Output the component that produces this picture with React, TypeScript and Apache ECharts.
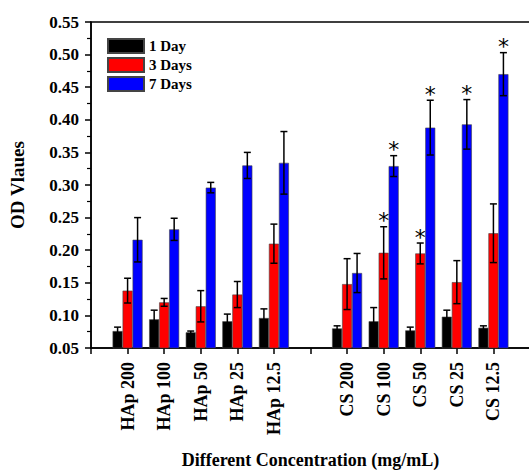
import React, { useEffect, useRef } from "react";
import * as echarts from "echarts";

const categories = ["", "HAp 200", "HAp 100", "HAp 50", "HAp 25", "HAp 12.5", "", "CS 200", "CS 100", "CS 50", "CS 25", "CS 12.5", ""];
const seriesNames = ["1 Day", "3 Days", "7 Days"];
const day1 = [null, 0.076, 0.094, 0.074, 0.091, 0.096, null, 0.080, 0.091, 0.077, 0.098, 0.081, null];
const day1Err = [null, 0.006, 0.014, 0.002, 0.011, 0.014, null, 0.004, 0.021, 0.005, 0.010, 0.003, null];
const day3 = [null, 0.138, 0.120, 0.114, 0.132, 0.210, null, 0.148, 0.196, 0.195, 0.151, 0.226, null];
const day3Err = [null, 0.019, 0.006, 0.024, 0.020, 0.030, null, 0.039, 0.040, 0.016, 0.033, 0.045, null];
const day7 = [null, 0.216, 0.232, 0.296, 0.330, 0.334, null, 0.165, 0.329, 0.388, 0.393, 0.470, null];
const day7Err = [null, 0.034, 0.017, 0.008, 0.020, 0.048, null, 0.030, 0.016, 0.042, 0.038, 0.033, null];
const sig1 = [0, 0, 0, 0, 0, 0, 0, 0, 0, 0, 0, 0, 0];
const sig3 = [0, 0, 0, 0, 0, 0, 0, 0, 1, 1, 0, 0, 0];
const sig7 = [0, 0, 0, 0, 0, 0, 0, 0, 1, 1, 1, 1, 0];
const colors = ["#000000", "#ff0000", "#0000ff"];

const FONT = "'Liberation Serif', 'Times New Roman', serif";
const BAR_W = 10;

export default function App() {
  const ref = useRef<HTMLDivElement>(null);
  useEffect(() => {
    document.body.style.margin = "0";
    const chart = echarts.init(ref.current!, null, { renderer: "svg" });
    const values = [day1, day3, day7];
    const errs = [day1Err, day3Err, day7Err];
    const sigs = [sig1, sig3, sig7];

    const bars = values.map((vals, i) => ({
      name: seriesNames[i],
      type: "bar",
      data: vals,
      barWidth: BAR_W,
      barGap: "0%",
      itemStyle: { color: colors[i], borderColor: "#444", borderWidth: 0.6 },
      z: 2,
    }));

    const errSeries = values.map((vals, i) => {
      const offset = (i - 1) * BAR_W;
      const data = vals
        .map((v, k) => (v == null ? null : [k, v, errs[i][k] as number, sigs[i][k]]))
        .filter((d) => d !== null);
      return {
        type: "custom",
        name: "err" + i,
        data,
        encode: { x: 0, y: 1 },
        z: 5,
        clip: false,
        silent: true,
        renderItem: (params: any, api: any) => {
          const idx = api.value(0);
          const v = api.value(1);
          const e = api.value(2);
          const s = api.value(3);
          const c = api.coord([idx, v]);
          const x = c[0] + offset;
          const hi = api.coord([idx, v + e])[1];
          const lo = api.coord([idx, v - e])[1];
          const cap = 3.5;
          const st = { stroke: "#000", lineWidth: 1.5 };
          const children: any[] = [
            { type: "line", shape: { x1: x, y1: hi, x2: x, y2: lo }, style: st },
            { type: "line", shape: { x1: x - cap, y1: hi, x2: x + cap, y2: hi }, style: st },
            { type: "line", shape: { x1: x - cap, y1: lo, x2: x + cap, y2: lo }, style: st },
          ];
          if (s) {
            children.push({
              type: "text",
              style: {
                text: "*",
                x: x,
                y: hi + 5,
                align: "center",
                verticalAlign: "bottom",
                fontSize: 22,
                fontFamily: "DejaVu Sans",
                fill: "#000",
              },
            });
          }
          return { type: "group", children };
        },
      };
    });

    chart.setOption({
      animation: false,
      backgroundColor: "#ffffff",
      grid: {
        left: 91,
        top: 22,
        right: -1,
        bottom: 123,
        show: true,
        borderColor: "#000",
        borderWidth: 1.5,
        backgroundColor: "transparent",
        outerBoundsMode: "none",
        containLabel: false,
      },
      legend: {
        data: seriesNames,
        orient: "vertical",
        left: 107,
        top: 38,
        padding: 0,
        itemWidth: 36,
        itemHeight: 14,
        itemGap: 3,
        icon: "rect",
        textStyle: { fontFamily: FONT, fontWeight: "bold", fontSize: 15, color: "#000" },
      },
      xAxis: {
        type: "category",
        data: categories,
        boundaryGap: false,
        name: "Different Concentration (mg/mL)",
        nameLocation: "middle",
        nameGap: 103,
        nameTextStyle: { fontFamily: FONT, fontWeight: "bold", fontSize: 18, color: "#000" },
        axisLine: { lineStyle: { color: "#000", width: 1.5 } },
        axisTick: { show: true, inside: false, length: 6, interval: 0, lineStyle: { color: "#000", width: 1.5 } },
        axisLabel: {
          interval: 0,
          rotate: 90,
          margin: 14,
          fontFamily: FONT,
          fontWeight: "bold",
          fontSize: 18,
          color: "#000",
        },
        splitLine: { show: false },
      },
      yAxis: {
        type: "value",
        min: 0.05,
        max: 0.55,
        interval: 0.05,
        name: "OD Vlaues",
        nameLocation: "middle",
        nameGap: 64,
        nameTextStyle: { fontFamily: FONT, fontWeight: "bold", fontSize: 19, color: "#000" },
        axisLine: { show: true, lineStyle: { color: "#000", width: 1.5 } },
        axisTick: { show: true, inside: false, length: 6, lineStyle: { color: "#000", width: 1.5 } },
        minorTick: { show: true, splitNumber: 2, length: 4, lineStyle: { color: "#000", width: 1.2 } },
        axisLabel: {
          margin: 12,
          formatter: (v: number) => v.toFixed(2),
          fontFamily: FONT,
          fontWeight: "bold",
          fontSize: 17,
          color: "#000",
        },
        splitLine: { show: false },
      },
      series: [...bars, ...errSeries],
    });
    return () => chart.dispose();
  }, []);
  return <div ref={ref} style={{ width: 529, height: 471 }} />;
}
